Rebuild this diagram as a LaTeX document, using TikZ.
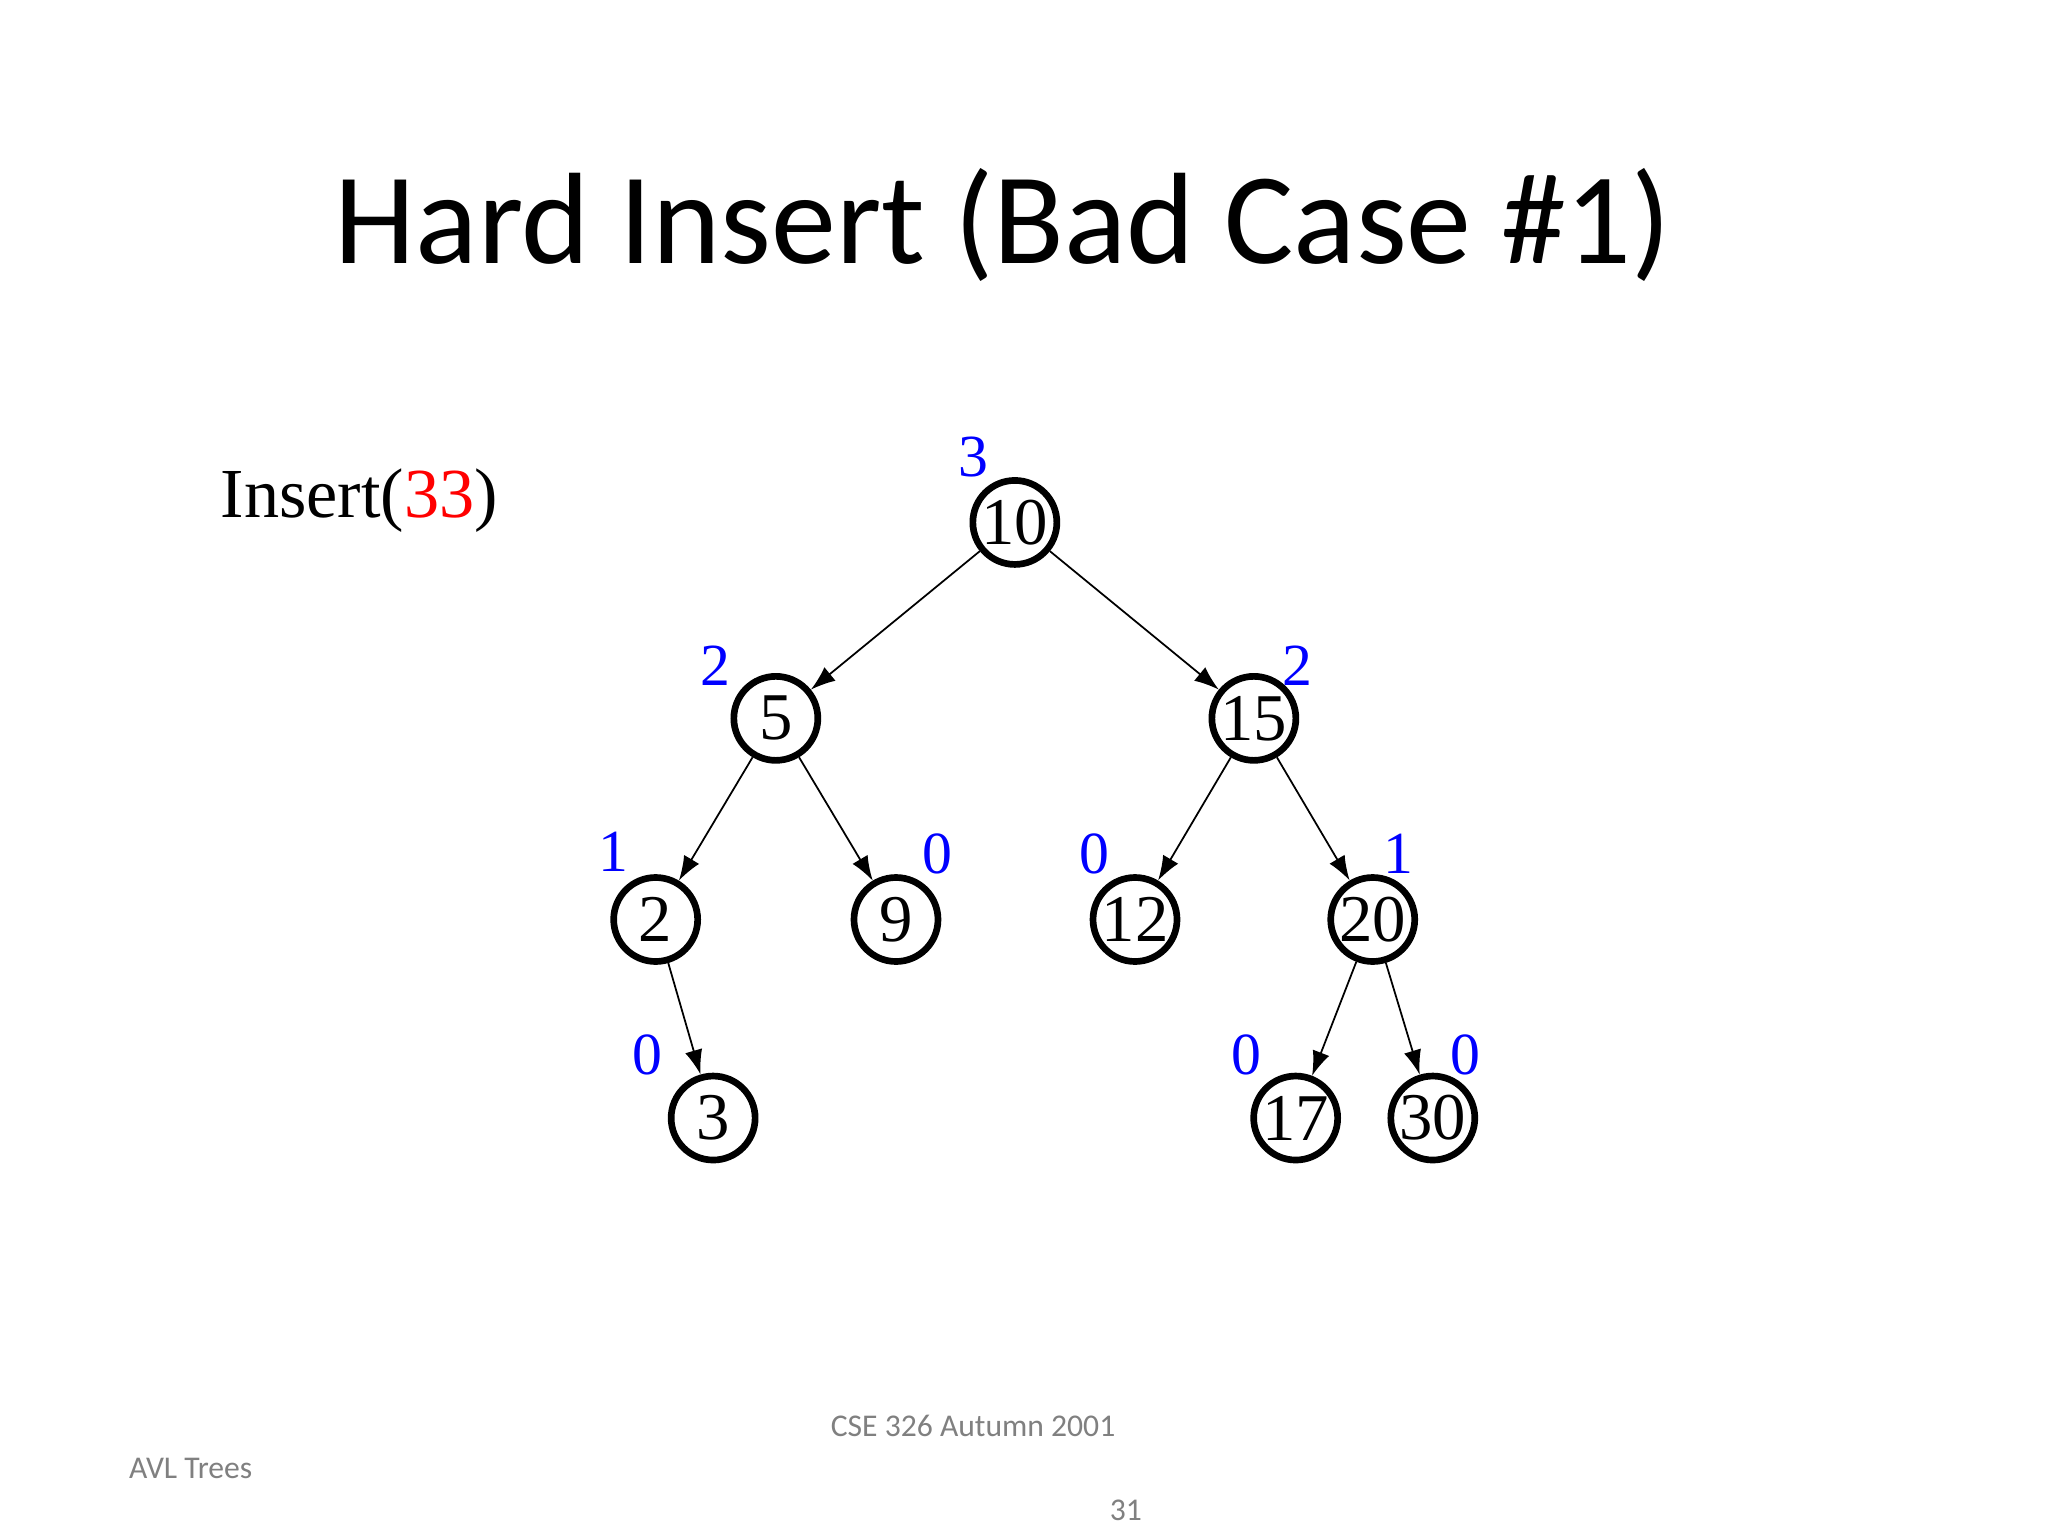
\documentclass[tikz,border=0pt]{standalone}
\usepackage{fontspec}
\setmainfont{Liberation Serif}
\newfontfamily\calfont{Carlito}
\usetikzlibrary{arrows.meta}
\begin{document}
\begin{tikzpicture}[x=0.01306cm,y=-0.01306cm,
  tn/.style={circle,draw,line width=1.9pt,minimum size=0.84cm,inner sep=0pt,font=\fontsize{19}{22}\selectfont},
  hl/.style={text=blue,font=\fontsize{17}{20}\selectfont},
  ed/.style={-{Latex[length=7pt,width=5pt]},line width=0.5pt}]
\useasboundingbox[fill=white] (0,0) rectangle (1568,1176);
\node[font=\calfont\fontsize{37}{44}\selectfont] (title) at (768,172) {Hard Insert (Bad Case \#1)};
\node[font=\fontsize{20}{24}\selectfont] (ins) at (275,383) {Insert(\textcolor{red}{33})};
\node (n10) [tn] at (777,400) {10};
\node (n5) [tn] at (594,550) {5};
\node (n15) [tn] at (960,550) {15};
\node (n2) [tn] at (502,704) {2};
\node (n9) [tn] at (686,704) {9};
\node (n12) [tn] at (869,704) {12};
\node (n20) [tn] at (1051,704) {20};
\node (n3) [tn] at (546,856) {3};
\node (n17) [tn] at (992,856) {17};
\node (n30) [tn] at (1097,856) {30};
\draw[ed] (n10) -- (n5);
\draw[ed] (n10) -- (n15);
\draw[ed] (n5) -- (n2);
\draw[ed] (n5) -- (n9);
\draw[ed] (n15) -- (n12);
\draw[ed] (n15) -- (n20);
\draw[ed] (n2) -- (n3);
\draw[ed] (n20) -- (n17);
\draw[ed] (n20) -- (n30);
\node[hl] (h10) at (745,350) {3};
\node[hl] (h5) at (548,510) {2};
\node[hl] (h15) at (993,510) {2};
\node[hl] (h2) at (470,652) {1};
\node[hl] (h9) at (718,654) {0};
\node[hl] (h12) at (838,654) {0};
\node[hl] (h20) at (1071,654) {1};
\node[hl] (h3) at (496,808) {0};
\node[hl] (h17) at (954,808) {0};
\node[hl] (h30) at (1122,808) {0};
\node[text=gray,font=\calfont\fontsize{9}{11}\selectfont] (f1) at (745,1092) {CSE 326 Autumn 2001};
\node[text=gray,font=\calfont\fontsize{9}{11}\selectfont] (f2) at (146,1124) {AVL Trees};
\node[text=gray,font=\calfont\fontsize{9}{11}\selectfont] (f3) at (862,1156) {31};
\end{tikzpicture}
\end{document}
